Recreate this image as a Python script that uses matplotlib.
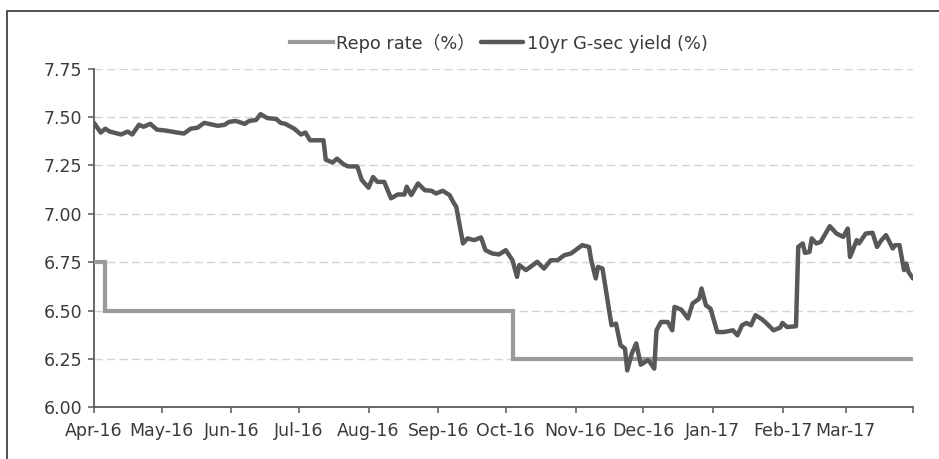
import matplotlib
matplotlib.use("Agg")
import matplotlib.pyplot as plt
from matplotlib.patches import Rectangle
import pandas as pd

# ---------------- data ----------------
repo_dates = ["2016-04-01", "2016-04-06", "2016-10-04", "2017-03-31"]
repo_values = [6.75, 6.50, 6.25, 6.25]

gsec_dates = [
    "2016-04-01", "2016-04-04", "2016-04-06", "2016-04-08", "2016-04-13", "2016-04-16",
    "2016-04-18", "2016-04-21", "2016-04-23", "2016-04-26", "2016-04-29",
    "2016-05-03", "2016-05-08", "2016-05-11", "2016-05-14", "2016-05-17", "2016-05-20",
    "2016-05-26", "2016-05-29", "2016-05-31",
    "2016-06-03", "2016-06-07", "2016-06-09", "2016-06-12", "2016-06-14", "2016-06-17",
    "2016-06-21", "2016-06-23", "2016-06-25", "2016-06-29",
    "2016-07-02", "2016-07-04", "2016-07-06", "2016-07-09", "2016-07-12", "2016-07-13",
    "2016-07-16", "2016-07-18", "2016-07-21", "2016-07-23", "2016-07-27", "2016-07-29",
    "2016-08-01", "2016-08-03", "2016-08-05", "2016-08-08", "2016-08-11", "2016-08-14",
    "2016-08-17", "2016-08-18", "2016-08-20", "2016-08-23", "2016-08-26", "2016-08-29",
    "2016-08-31",
    "2016-09-03", "2016-09-06", "2016-09-08", "2016-09-09", "2016-09-12", "2016-09-14",
    "2016-09-17", "2016-09-20", "2016-09-22", "2016-09-25", "2016-09-28",
    "2016-10-01", "2016-10-04", "2016-10-06", "2016-10-07", "2016-10-10", "2016-10-15",
    "2016-10-18", "2016-10-21", "2016-10-24", "2016-10-27", "2016-10-30",
    "2016-11-02", "2016-11-04", "2016-11-07", "2016-11-08", "2016-11-10", "2016-11-11",
    "2016-11-13", "2016-11-15", "2016-11-17", "2016-11-19", "2016-11-21", "2016-11-23",
    "2016-11-24", "2016-11-26", "2016-11-28", "2016-11-30",
    "2016-12-03", "2016-12-04", "2016-12-06", "2016-12-07", "2016-12-09", "2016-12-12",
    "2016-12-14", "2016-12-15", "2016-12-18", "2016-12-21", "2016-12-23", "2016-12-26",
    "2016-12-27", "2016-12-29", "2016-12-31",
    "2017-01-03", "2017-01-06", "2017-01-10", "2017-01-12", "2017-01-14", "2017-01-16",
    "2017-01-18", "2017-01-20", "2017-01-23", "2017-01-25", "2017-01-28", "2017-01-31",
    "2017-02-01", "2017-02-03", "2017-02-07", "2017-02-08", "2017-02-10", "2017-02-11",
    "2017-02-13", "2017-02-14", "2017-02-16", "2017-02-18", "2017-02-22", "2017-02-25",
    "2017-02-28",
    "2017-03-02", "2017-03-03", "2017-03-06", "2017-03-07", "2017-03-10", "2017-03-13",
    "2017-03-15", "2017-03-17", "2017-03-19", "2017-03-22", "2017-03-23", "2017-03-25",
    "2017-03-27", "2017-03-28", "2017-03-29", "2017-03-31",
]
gsec_values = [
    7.47, 7.42, 7.44, 7.425, 7.41, 7.425,
    7.41, 7.46, 7.45, 7.465, 7.435,
    7.43, 7.42, 7.415, 7.44, 7.445, 7.47,
    7.455, 7.46, 7.475,
    7.48, 7.465, 7.48, 7.485, 7.515, 7.495,
    7.49, 7.47, 7.465, 7.44,
    7.41, 7.42, 7.38, 7.38, 7.38, 7.28,
    7.265, 7.285, 7.255, 7.245, 7.245, 7.175,
    7.135, 7.19, 7.165, 7.165, 7.08, 7.10,
    7.10, 7.14, 7.097, 7.157, 7.122, 7.119,
    7.105,
    7.119, 7.097, 7.054, 7.036, 6.847, 6.873,
    6.864, 6.878, 6.812, 6.795, 6.79,
    6.812, 6.76, 6.674, 6.735, 6.709, 6.752,
    6.717, 6.76, 6.76, 6.786, 6.795,
    6.821, 6.838, 6.829, 6.76, 6.666, 6.726,
    6.717, 6.57, 6.424, 6.433, 6.321, 6.303,
    6.191, 6.277, 6.33, 6.22,
    6.243, 6.234, 6.20, 6.398, 6.441, 6.441,
    6.398, 6.519, 6.505, 6.459, 6.536, 6.562,
    6.614, 6.527, 6.51,
    6.389, 6.389, 6.398, 6.372, 6.424, 6.436,
    6.424, 6.476, 6.454, 6.433, 6.398, 6.412,
    6.436, 6.415, 6.419, 6.829, 6.847, 6.798,
    6.803, 6.873, 6.847, 6.855, 6.936, 6.898,
    6.881,
    6.924, 6.777, 6.864, 6.847, 6.898, 6.902,
    6.829, 6.864, 6.89, 6.821, 6.838, 6.838,
    6.709, 6.743, 6.70, 6.666,
]

month_ticks = ["2016-04-01", "2016-05-01", "2016-06-01", "2016-07-01", "2016-08-01",
               "2016-09-01", "2016-10-01", "2016-11-01", "2016-12-01", "2017-01-01",
               "2017-02-01", "2017-03-01", "2017-03-31"]
month_labels = ["Apr-16", "May-16", "Jun-16", "Jul-16", "Aug-16", "Sep-16", "Oct-16",
                "Nov-16", "Dec-16", "Jan-17", "Feb-17", "Mar-17", ""]
y_ticks = [6.00, 6.25, 6.50, 6.75, 7.00, 7.25, 7.50, 7.75]

repo_label = "Repo rate（%）"
gsec_label = "10yr G-sec yield (%)"

# ---------------- plot ----------------
plt.rcParams["font.family"] = ["DejaVu Sans", "Noto Sans CJK SC"]
W, H = 939, 459
fig = plt.figure(figsize=(W / 100, H / 100), dpi=100)
fig.patch.set_facecolor("white")

ax = fig.add_axes([94 / W, 1 - 407.3 / H, (913 - 94) / W, (407.3 - 68.7) / H])

rd = pd.to_datetime(repo_dates)
gd = pd.to_datetime(gsec_dates)

ax.step(rd, repo_values, where="post", color="#9a9a9a", lw=3.0,
        solid_joinstyle="miter", label=repo_label, zorder=3)
ax.plot(gd, gsec_values, color="#58585a", lw=3.2, solid_joinstyle="round",
        solid_capstyle="round", label=gsec_label, zorder=4)

ax.set_xlim(pd.Timestamp("2016-04-01"), pd.Timestamp("2017-03-31"))
ax.set_ylim(6.0, 7.75)
ax.set_yticks(y_ticks)
ax.set_yticklabels([f"{v:.2f}" for v in y_ticks])
ax.set_xticks(pd.to_datetime(month_ticks))
ax.set_xticklabels(month_labels)

for v in y_ticks[1:]:
    ax.axhline(v, color="#d4d4d4", lw=1.0, ls=(0, (6, 3)), zorder=1)

for s in ["top", "right"]:
    ax.spines[s].set_visible(False)
for s in ["left", "bottom"]:
    ax.spines[s].set_color("#5a5a5a")
    ax.spines[s].set_linewidth(1.3)

ax.tick_params(axis="both", direction="out", length=4.5, width=1.1, color="#5a5a5a",
               labelsize=12.5, labelcolor="#3a3a3a")
ax.tick_params(axis="y", pad=4)
ax.tick_params(axis="x", pad=6)

leg = fig.legend(loc="center", bbox_to_anchor=(499 / W, 1 - 43 / H), ncol=2, frameon=False,
                 fontsize=12.8, handlelength=2.4, handletextpad=0.2, columnspacing=0.3,
                 borderaxespad=0, borderpad=0)
for t in leg.get_texts():
    t.set_color("#3a3a3a")

# outer frame
fig.patches.append(Rectangle((7 / W, -0.2), 1.2, 1.2 - 11 / H, transform=fig.transFigure,
                             fill=False, edgecolor="#333333", lw=1.2, zorder=0))

fig.savefig("out.png", dpi=100, facecolor="white")
